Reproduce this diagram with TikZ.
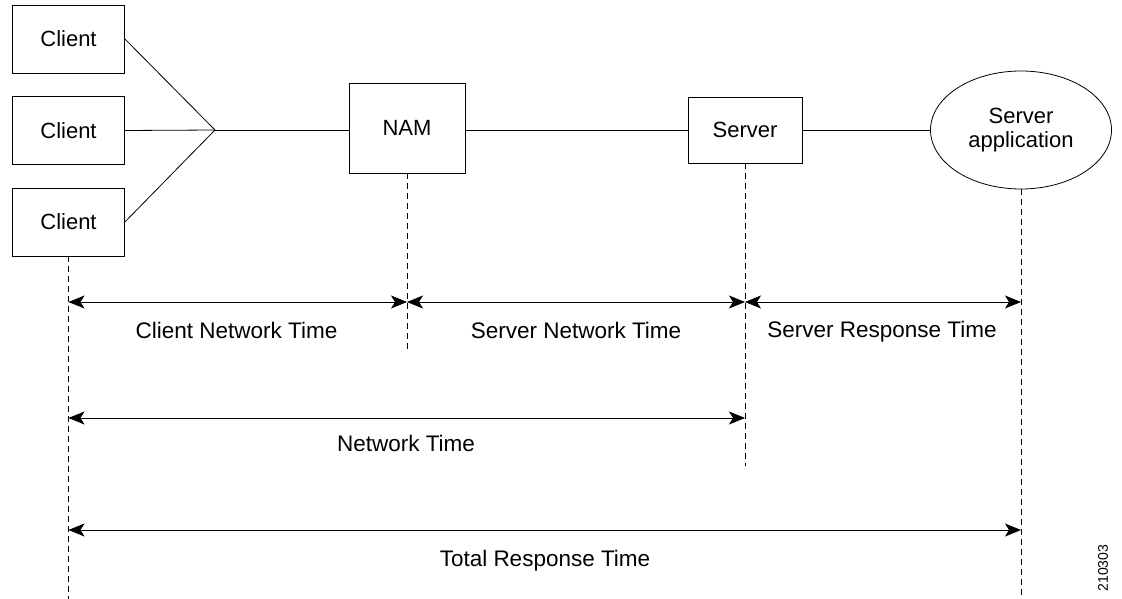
\documentclass[tikz,border=0pt]{standalone}
\usepackage{fontspec}
\setmainfont{Liberation Sans}
\usetikzlibrary{shapes.geometric,arrows.meta}
\begin{document}
\begin{tikzpicture}[x=1pt,y=-1pt,
  box/.style={draw, line width=0.8pt, inner sep=0pt, font=\fontsize{22}{24}\selectfont},
  link/.style={line width=0.8pt},
  guide/.style={line width=1pt, dash pattern=on 6pt off 4pt},
  span/.style={line width=0.8pt, {Stealth[length=16pt,width=13pt,inset=4pt]}-{Stealth[length=16pt,width=13pt,inset=4pt]}},
  lbl/.style={inner sep=0pt, anchor=base, font=\fontsize{22.5}{24}\selectfont}]
\useasboundingbox (0,0) rectangle (1122,599);
% nodes
\node[box, minimum width=112pt, minimum height=68pt] (c1) at (68.5,39) {Client};
\node[box, minimum width=112pt, minimum height=68pt] (c2) at (68.5,130.5) {Client};
\node[box, minimum width=112pt, minimum height=68pt] (c3) at (68.5,222) {Client};
\coordinate (j) at (215,130);
\node[box, minimum width=116pt, minimum height=90pt] (nam) at (407,128) {NAM};
\node[box, minimum width=114pt, minimum height=66pt] (srv) at (745,130) {Server};
\node[box, ellipse, minimum width=181pt, minimum height=118pt, align=center] (app) at (1021,130) {Server\\application};
% links
\draw[link] (c1.east) -- (j);
\draw[link] (c2.east) -- (j);
\draw[link] (c3.east) -- (j);
\draw[link] (j) -- (nam.west |- j);
\draw[link] (nam.east |- j) -- (srv.west);
\draw[link] (srv.east) -- (app.west);
% guides
\coordinate (g1) at (68.5,599);
\coordinate (g2) at (407,349);
\coordinate (g3) at (745,466);
\coordinate (g4) at (1021,599);
\draw[guide] (c3.south) -- (g1);
\draw[guide] (nam.south) -- (g2);
\draw[guide] (srv.south) -- (g3);
\draw[guide] (app.south) -- (g4);
% spans
\coordinate (r1a) at (68.5,302);
\coordinate (r1b) at (407,302);
\coordinate (r1c) at (745,302);
\coordinate (r1d) at (1021,302);
\coordinate (r2a) at (68.5,418);
\coordinate (r2b) at (745,418);
\coordinate (r3a) at (68.5,530);
\coordinate (r3b) at (1021,530);
\draw[span] (r1a) -- (r1b);
\draw[span] (r1b) -- (r1c);
\draw[span] (r1c) -- (r1d);
\draw[span] (r2a) -- (r2b);
\draw[span] (r3a) -- (r3b);
% labels
\node[lbl] (l1) at (236.5,338) {Client Network Time};
\node[lbl] (l2) at (576,338) {Server Network Time};
\node[lbl] (l3) at (882,337) {Server Response Time};
\node[lbl] (l4) at (406,451) {Network Time};
\node[lbl] (l5) at (545,566) {Total Response Time};
\node[inner sep=0pt, rotate=90, font=\fontsize{14}{16}\selectfont] (id) at (1103,568) {210303};
\end{tikzpicture}
\end{document}
